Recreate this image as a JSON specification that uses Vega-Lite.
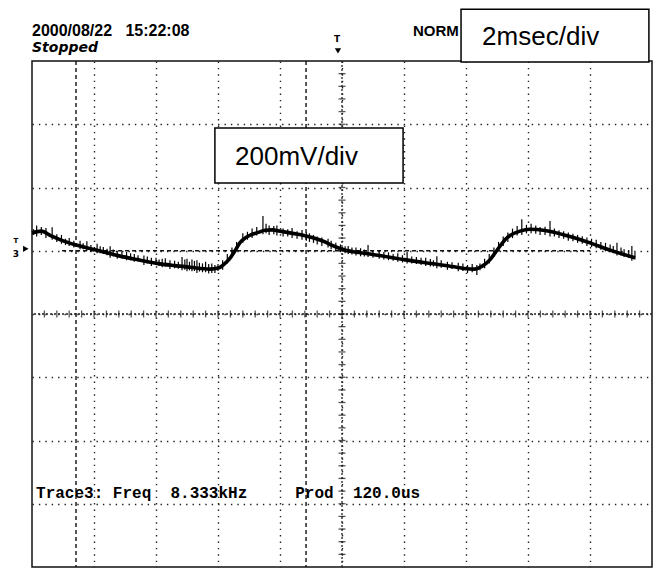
{
  "$schema": "https://vega.github.io/schema/vega-lite/v6.json",
  "width": 620,
  "height": 506,
  "autosize": {"type": "none"},
  "padding": {"left": 32, "top": 61, "right": 6, "bottom": 2},
  "background": "white",
  "config": {
    "view": {"stroke": "#111", "strokeWidth": 1.5},
    "axis": {"grid": true, "labels": false, "ticks": false, "domain": false, "title": null, "gridColor": "#222", "gridWidth": 1.4, "gridDash": [1.4, 5], "gridOpacity": 1}
  },
  "datasets": {
    "trace": [
      {"t": 0, "v": 256}, {"t": 0.3, "v": 262}, {"t": 0.6, "v": 248}, {"t": 0.9, "v": 235},
      {"t": 1.42, "v": 218}, {"t": 2.0, "v": 204}, {"t": 2.84, "v": 183}, {"t": 3.5, "v": 170},
      {"t": 4.03, "v": 160}, {"t": 4.6, "v": 153}, {"t": 5.1, "v": 148}, {"t": 5.74, "v": 142},
      {"t": 6.03, "v": 146}, {"t": 6.2, "v": 158}, {"t": 6.39, "v": 177}, {"t": 6.55, "v": 200},
      {"t": 6.71, "v": 226}, {"t": 6.87, "v": 240}, {"t": 7.03, "v": 249}, {"t": 7.3, "v": 258},
      {"t": 7.52, "v": 265}, {"t": 7.75, "v": 266}, {"t": 8.0, "v": 262}, {"t": 8.4, "v": 255},
      {"t": 8.84, "v": 247}, {"t": 9.45, "v": 228}, {"t": 9.61, "v": 220}, {"t": 10.0, "v": 205},
      {"t": 10.9, "v": 190}, {"t": 12.0, "v": 172}, {"t": 13.16, "v": 156}, {"t": 13.7, "v": 148},
      {"t": 14.0, "v": 143}, {"t": 14.29, "v": 142}, {"t": 14.5, "v": 150}, {"t": 14.77, "v": 171},
      {"t": 14.95, "v": 195}, {"t": 15.1, "v": 215}, {"t": 15.26, "v": 235}, {"t": 15.42, "v": 248},
      {"t": 15.74, "v": 262}, {"t": 16.06, "v": 268}, {"t": 16.55, "v": 264}, {"t": 17.35, "v": 245},
      {"t": 18.0, "v": 225}, {"t": 18.65, "v": 202}, {"t": 19.45, "v": 178}
    ],
    "spikes": [
      {"t": 0.15, "lo": 245, "hi": 280}, {"t": 0.45, "lo": 240, "hi": 272}, {"t": 0.65, "lo": 235, "hi": 274},
      {"t": 0.95, "lo": 222, "hi": 250}, {"t": 1.2, "lo": 215, "hi": 240}, {"t": 1.55, "lo": 205, "hi": 232},
      {"t": 1.77, "lo": 200, "hi": 230}, {"t": 2.1, "lo": 192, "hi": 222}, {"t": 2.3, "lo": 190, "hi": 212},
      {"t": 2.52, "lo": 178, "hi": 214}, {"t": 2.75, "lo": 175, "hi": 200}, {"t": 3.05, "lo": 170, "hi": 196},
      {"t": 3.3, "lo": 165, "hi": 190}, {"t": 3.61, "lo": 155, "hi": 185}, {"t": 3.85, "lo": 152, "hi": 178},
      {"t": 4.2, "lo": 148, "hi": 175}, {"t": 4.45, "lo": 142, "hi": 170}, {"t": 4.84, "lo": 138, "hi": 180},
      {"t": 5.0, "lo": 135, "hi": 175}, {"t": 5.16, "lo": 135, "hi": 172}, {"t": 5.32, "lo": 130, "hi": 170},
      {"t": 5.5, "lo": 132, "hi": 160}, {"t": 5.7, "lo": 128, "hi": 158}, {"t": 5.9, "lo": 130, "hi": 155},
      {"t": 6.15, "lo": 140, "hi": 170}, {"t": 6.45, "lo": 178, "hi": 210}, {"t": 6.8, "lo": 225, "hi": 255},
      {"t": 7.1, "lo": 240, "hi": 270}, {"t": 7.45, "lo": 252, "hi": 310}, {"t": 7.65, "lo": 250, "hi": 280},
      {"t": 7.9, "lo": 248, "hi": 280}, {"t": 8.1, "lo": 245, "hi": 270}, {"t": 8.39, "lo": 240, "hi": 272},
      {"t": 8.71, "lo": 235, "hi": 266}, {"t": 8.95, "lo": 228, "hi": 255}, {"t": 9.2, "lo": 220, "hi": 245},
      {"t": 9.55, "lo": 210, "hi": 238}, {"t": 9.8, "lo": 200, "hi": 225}, {"t": 10.2, "lo": 190, "hi": 215},
      {"t": 10.45, "lo": 185, "hi": 210}, {"t": 10.84, "lo": 180, "hi": 218}, {"t": 11.2, "lo": 175, "hi": 200},
      {"t": 11.5, "lo": 170, "hi": 195}, {"t": 11.8, "lo": 165, "hi": 192}, {"t": 12.1, "lo": 160, "hi": 196},
      {"t": 12.4, "lo": 158, "hi": 180}, {"t": 12.7, "lo": 152, "hi": 178}, {"t": 13.06, "lo": 145, "hi": 183},
      {"t": 13.4, "lo": 140, "hi": 165}, {"t": 13.75, "lo": 135, "hi": 162}, {"t": 14.05, "lo": 130, "hi": 155},
      {"t": 14.35, "lo": 123, "hi": 155}, {"t": 14.6, "lo": 145, "hi": 175}, {"t": 14.9, "lo": 180, "hi": 210},
      {"t": 15.2, "lo": 215, "hi": 245}, {"t": 15.5, "lo": 240, "hi": 270}, {"t": 15.8, "lo": 250, "hi": 300},
      {"t": 16.1, "lo": 255, "hi": 285}, {"t": 16.39, "lo": 250, "hi": 275}, {"t": 16.71, "lo": 245, "hi": 294},
      {"t": 17.0, "lo": 240, "hi": 265}, {"t": 17.3, "lo": 232, "hi": 258}, {"t": 17.6, "lo": 225, "hi": 250},
      {"t": 17.9, "lo": 215, "hi": 242}, {"t": 18.2, "lo": 208, "hi": 235}, {"t": 18.5, "lo": 198, "hi": 225},
      {"t": 18.87, "lo": 185, "hi": 225}, {"t": 19.1, "lo": 180, "hi": 205}, {"t": 19.35, "lo": 168, "hi": 215},
      {"t": 0.05, "lo": 250, "hi": 268}, {"t": 0.3, "lo": 250, "hi": 275}, {"t": 0.8, "lo": 228, "hi": 252},
      {"t": 1.08, "lo": 218, "hi": 238}, {"t": 1.35, "lo": 210, "hi": 232}, {"t": 1.65, "lo": 205, "hi": 224},
      {"t": 1.9, "lo": 198, "hi": 218}, {"t": 2.2, "lo": 192, "hi": 214}, {"t": 2.42, "lo": 186, "hi": 206},
      {"t": 2.62, "lo": 182, "hi": 204}, {"t": 2.9, "lo": 176, "hi": 198}, {"t": 3.18, "lo": 170, "hi": 192},
      {"t": 3.42, "lo": 166, "hi": 186}, {"t": 3.72, "lo": 160, "hi": 182}, {"t": 4.0, "lo": 155, "hi": 178},
      {"t": 4.1, "lo": 152, "hi": 172}, {"t": 4.3, "lo": 150, "hi": 176}, {"t": 4.6, "lo": 145, "hi": 168},
      {"t": 4.72, "lo": 143, "hi": 165}, {"t": 4.93, "lo": 140, "hi": 172}, {"t": 5.08, "lo": 138, "hi": 165},
      {"t": 5.24, "lo": 136, "hi": 168}, {"t": 5.4, "lo": 134, "hi": 162}, {"t": 5.6, "lo": 132, "hi": 165},
      {"t": 5.8, "lo": 130, "hi": 160}, {"t": 6.0, "lo": 136, "hi": 158}, {"t": 6.3, "lo": 160, "hi": 190},
      {"t": 6.6, "lo": 200, "hi": 228}, {"t": 6.95, "lo": 235, "hi": 260}, {"t": 7.25, "lo": 248, "hi": 275},
      {"t": 7.55, "lo": 255, "hi": 285}, {"t": 7.8, "lo": 252, "hi": 278}, {"t": 8.25, "lo": 245, "hi": 268},
      {"t": 8.55, "lo": 238, "hi": 262}, {"t": 8.85, "lo": 232, "hi": 258}, {"t": 9.08, "lo": 225, "hi": 250},
      {"t": 9.35, "lo": 215, "hi": 242}, {"t": 9.65, "lo": 205, "hi": 232}, {"t": 9.95, "lo": 196, "hi": 220},
      {"t": 10.1, "lo": 192, "hi": 214}, {"t": 10.32, "lo": 188, "hi": 210}, {"t": 10.6, "lo": 183, "hi": 208},
      {"t": 10.72, "lo": 182, "hi": 204}, {"t": 11.0, "lo": 178, "hi": 200}, {"t": 11.35, "lo": 172, "hi": 196},
      {"t": 11.65, "lo": 168, "hi": 190}, {"t": 11.95, "lo": 163, "hi": 186}, {"t": 12.25, "lo": 160, "hi": 182},
      {"t": 12.55, "lo": 155, "hi": 178}, {"t": 12.85, "lo": 150, "hi": 174}, {"t": 12.95, "lo": 150, "hi": 170},
      {"t": 13.2, "lo": 146, "hi": 170}, {"t": 13.55, "lo": 142, "hi": 164}, {"t": 13.9, "lo": 136, "hi": 160},
      {"t": 14.2, "lo": 132, "hi": 158}, {"t": 14.45, "lo": 138, "hi": 160}, {"t": 14.75, "lo": 160, "hi": 190},
      {"t": 15.05, "lo": 200, "hi": 228}, {"t": 15.35, "lo": 228, "hi": 258}, {"t": 15.65, "lo": 248, "hi": 278},
      {"t": 15.95, "lo": 255, "hi": 282}, {"t": 16.25, "lo": 254, "hi": 280}, {"t": 16.55, "lo": 250, "hi": 276},
      {"t": 16.85, "lo": 245, "hi": 270}, {"t": 17.15, "lo": 238, "hi": 262}, {"t": 17.45, "lo": 230, "hi": 254},
      {"t": 17.75, "lo": 222, "hi": 246}, {"t": 18.05, "lo": 212, "hi": 238}, {"t": 18.35, "lo": 203, "hi": 228},
      {"t": 18.65, "lo": 195, "hi": 220}, {"t": 18.75, "lo": 192, "hi": 215}, {"t": 19.0, "lo": 185, "hi": 210},
      {"t": 19.25, "lo": 178, "hi": 202}, {"t": 19.45, "lo": 172, "hi": 195}
    ],
    "xticks": [
      {"t": 0.4}, {"t": 0.8}, {"t": 1.2}, {"t": 1.6}, {"t": 2.0}, {"t": 2.4}, {"t": 2.8}, {"t": 3.2}, {"t": 3.6}, {"t": 4.0},
      {"t": 4.4}, {"t": 4.8}, {"t": 5.2}, {"t": 5.6}, {"t": 6.0}, {"t": 6.4}, {"t": 6.8}, {"t": 7.2}, {"t": 7.6}, {"t": 8.0},
      {"t": 8.4}, {"t": 8.8}, {"t": 9.2}, {"t": 9.6}, {"t": 10.0}, {"t": 10.4}, {"t": 10.8}, {"t": 11.2}, {"t": 11.6}, {"t": 12.0},
      {"t": 12.4}, {"t": 12.8}, {"t": 13.2}, {"t": 13.6}, {"t": 14.0}, {"t": 14.4}, {"t": 14.8}, {"t": 15.2}, {"t": 15.6}, {"t": 16.0},
      {"t": 16.4}, {"t": 16.8}, {"t": 17.2}, {"t": 17.6}, {"t": 18.0}, {"t": 18.4}, {"t": 18.8}, {"t": 19.2}, {"t": 19.6}
    ],
    "yticks": [
      {"v": -760}, {"v": -720}, {"v": -680}, {"v": -640}, {"v": -600}, {"v": -560}, {"v": -520}, {"v": -480}, {"v": -440}, {"v": -400},
      {"v": -360}, {"v": -320}, {"v": -280}, {"v": -240}, {"v": -200}, {"v": -160}, {"v": -120}, {"v": -80}, {"v": -40}, {"v": 0},
      {"v": 40}, {"v": 80}, {"v": 120}, {"v": 160}, {"v": 200}, {"v": 240}, {"v": 280}, {"v": 320}, {"v": 360}, {"v": 400},
      {"v": 440}, {"v": 480}, {"v": 520}, {"v": 560}, {"v": 600}, {"v": 640}, {"v": 680}, {"v": 720}, {"v": 760}
    ],
    "centerV": [{"t": 10}],
    "centerH": [{"v": 0}],
    "cursorsV": [{"t": 1.42}, {"t": 8.84}],
    "cursorH": [{"t": 0.97, "t2": 18.0, "v": 200}],
    "boxes": [
      {"t": 13.84, "t2": 19.9, "v": 964, "v2": 797},
      {"t": 5.9, "t2": 11.97, "v": 588, "v2": 414}
    ],
    "bigLabels": [
      {"t": 14.52, "v": 851, "label": "2msec/div"},
      {"t": 6.55, "v": 471, "label": "200mV/div"}
    ],
    "dateLabel": [{"t": 0, "v": 879, "label": "2000/08/22\u00a0\u00a0\u00a015:22:08"}],
    "normLabel": [{"t": 12.29, "v": 879, "label": "NORM"}],
    "stateLabel": [{"t": 0, "v": 830, "label": "Stopped"}],
    "measLabel": [{"t": 0.13, "v": -582, "label": "Trace3:\u00a0Freq\u00a0\u00a08.333kHz\u00a0\u00a0\u00a0\u00a0\u00a0Prod\u00a0\u00a0120.0us"}],
    "trigTop": [{"t": 9.84, "v": 870, "label": "T"}],
    "trigTopArrow": [{"t": 9.87, "v": 832}],
    "trigLeft": [{"t": -0.52, "v": 190, "label": "3"}],
    "trigLeftT": [{"t": -0.52, "v": 230, "label": "T"}],
    "trigLeftArrow": [{"t": -0.2, "v": 206}]
  },
  "layer": [
    {
      "data": {"name": "centerV"},
      "mark": {"type": "rule", "color": "#222", "strokeWidth": 1.3, "strokeDash": [2, 2]},
      "encoding": {
        "x": {"field": "t", "type": "quantitative", "scale": {"domain": [0, 20], "nice": false, "zero": false}, "axis": {"values": [2, 4, 6, 8, 10, 12, 14, 16, 18]}}
      }
    },
    {
      "data": {"name": "centerH"},
      "mark": {"type": "rule", "color": "#222", "strokeWidth": 1.3, "strokeDash": [2, 2]},
      "encoding": {
        "y": {"field": "v", "type": "quantitative", "scale": {"domain": [-800, 800], "nice": false, "zero": false}, "axis": {"values": [-600, -400, -200, 0, 200, 400, 600]}}
      }
    },
    {
      "data": {"name": "xticks"},
      "mark": {"type": "tick", "orient": "vertical", "color": "#111", "size": 7, "thickness": 1.3},
      "encoding": {
        "x": {"field": "t", "type": "quantitative"},
        "y": {"datum": 0, "type": "quantitative"}
      }
    },
    {
      "data": {"name": "yticks"},
      "mark": {"type": "tick", "orient": "horizontal", "color": "#111", "size": 7, "thickness": 1.3},
      "encoding": {
        "y": {"field": "v", "type": "quantitative"},
        "x": {"datum": 10, "type": "quantitative"}
      }
    },
    {
      "data": {"name": "cursorsV"},
      "mark": {"type": "rule", "color": "#111", "strokeWidth": 1.4, "strokeDash": [4, 3]},
      "encoding": {"x": {"field": "t", "type": "quantitative"}}
    },
    {
      "data": {"name": "cursorH"},
      "mark": {"type": "rule", "color": "#111", "strokeWidth": 1.4, "strokeDash": [4, 3]},
      "encoding": {
        "x": {"field": "t", "type": "quantitative"},
        "x2": {"field": "t2"},
        "y": {"field": "v", "type": "quantitative"}
      }
    },
    {
      "data": {"name": "spikes"},
      "mark": {"type": "rule", "color": "#000", "strokeWidth": 1.2},
      "encoding": {
        "x": {"field": "t", "type": "quantitative"},
        "y": {"field": "lo", "type": "quantitative"},
        "y2": {"field": "hi"}
      }
    },
    {
      "data": {"name": "trace"},
      "mark": {"type": "line", "color": "#000", "strokeWidth": 3.6, "interpolate": "monotone"},
      "encoding": {
        "x": {"field": "t", "type": "quantitative"},
        "y": {"field": "v", "type": "quantitative"}
      }
    },
    {
      "data": {"name": "boxes"},
      "mark": {"type": "rect", "fill": "white", "stroke": "#000", "strokeWidth": 1.5},
      "encoding": {
        "x": {"field": "t", "type": "quantitative"},
        "x2": {"field": "t2"},
        "y": {"field": "v", "type": "quantitative"},
        "y2": {"field": "v2"}
      }
    },
    {
      "data": {"name": "bigLabels"},
      "mark": {"type": "text", "font": "Liberation Sans", "fontSize": 26, "align": "left", "baseline": "alphabetic", "color": "#000"},
      "encoding": {
        "x": {"field": "t", "type": "quantitative"},
        "y": {"field": "v", "type": "quantitative"},
        "text": {"field": "label"}
      }
    },
    {
      "data": {"name": "dateLabel"},
      "mark": {"type": "text", "font": "Liberation Sans", "fontSize": 16, "fontWeight": "bold", "align": "left", "baseline": "alphabetic", "color": "#000"},
      "encoding": {
        "x": {"field": "t", "type": "quantitative"},
        "y": {"field": "v", "type": "quantitative"},
        "text": {"field": "label"}
      }
    },
    {
      "data": {"name": "normLabel"},
      "mark": {"type": "text", "font": "Liberation Sans", "fontSize": 15, "fontWeight": "bold", "align": "left", "baseline": "alphabetic", "color": "#000"},
      "encoding": {
        "x": {"field": "t", "type": "quantitative"},
        "y": {"field": "v", "type": "quantitative"},
        "text": {"field": "label"}
      }
    },
    {
      "data": {"name": "stateLabel"},
      "mark": {"type": "text", "font": "DejaVu Sans", "fontSize": 14, "fontWeight": "bold", "fontStyle": "italic", "align": "left", "baseline": "alphabetic", "color": "#000"},
      "encoding": {
        "x": {"field": "t", "type": "quantitative"},
        "y": {"field": "v", "type": "quantitative"},
        "text": {"field": "label"}
      }
    },
    {
      "data": {"name": "measLabel"},
      "mark": {"type": "text", "font": "Liberation Mono", "fontSize": 16, "fontWeight": "bold", "align": "left", "baseline": "alphabetic", "color": "#000"},
      "encoding": {
        "x": {"field": "t", "type": "quantitative"},
        "y": {"field": "v", "type": "quantitative"},
        "text": {"field": "label"}
      }
    },
    {
      "data": {"name": "trigTop"},
      "mark": {"type": "text", "font": "DejaVu Sans", "fontSize": 9, "fontWeight": "bold", "align": "center", "baseline": "middle", "color": "#000"},
      "encoding": {
        "x": {"field": "t", "type": "quantitative"},
        "y": {"field": "v", "type": "quantitative"},
        "text": {"field": "label"}
      }
    },
    {
      "data": {"name": "trigTopArrow"},
      "mark": {"type": "point", "shape": "triangle-down", "filled": true, "color": "#000", "size": 40, "opacity": 1},
      "encoding": {
        "x": {"field": "t", "type": "quantitative"},
        "y": {"field": "v", "type": "quantitative"}
      }
    },
    {
      "data": {"name": "trigLeft"},
      "mark": {"type": "text", "font": "DejaVu Sans", "fontSize": 9, "fontWeight": "bold", "align": "center", "baseline": "middle", "color": "#000"},
      "encoding": {
        "x": {"field": "t", "type": "quantitative"},
        "y": {"field": "v", "type": "quantitative"},
        "text": {"field": "label"}
      }
    },
    {
      "data": {"name": "trigLeftT"},
      "mark": {"type": "text", "font": "DejaVu Sans", "fontSize": 7, "fontWeight": "bold", "align": "center", "baseline": "middle", "color": "#000"},
      "encoding": {
        "x": {"field": "t", "type": "quantitative"},
        "y": {"field": "v", "type": "quantitative"},
        "text": {"field": "label"}
      }
    },
    {
      "data": {"name": "trigLeftArrow"},
      "mark": {"type": "point", "shape": "triangle-right", "filled": true, "color": "#000", "size": 40, "opacity": 1},
      "encoding": {
        "x": {"field": "t", "type": "quantitative"},
        "y": {"field": "v", "type": "quantitative"}
      }
    }
  ]
}
